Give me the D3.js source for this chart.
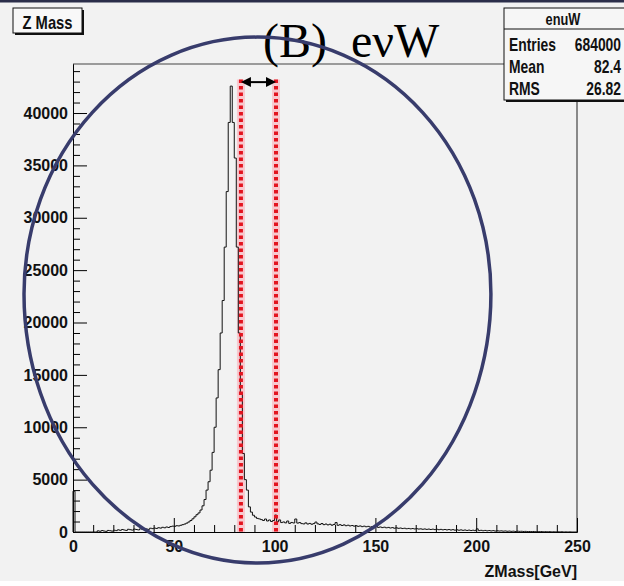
<!DOCTYPE html>
<html>
<head>
<meta charset="utf-8">
<script src="https://cdn.jsdelivr.net/npm/d3@7"></script>
<style>
  body { margin: 0; background: #f2f2f2; }
  svg { display: block; }
</style>
</head>
<body>
<svg id="chart"></svg>
<script>

// histogram contents, 1 GeV bins from 0 to 250 GeV
var binWidth = 1
var histValues = [
    3900, 0, 0, 0, 0, 0, 0, 0, 0, 0,
    0, 0, 110, 70, 140, 90, 60, 150, 120, 80,
    170, 130, 210, 160, 240, 190, 150, 260, 220, 180,
    280, 240, 200, 300, 260, 330, 290, 250, 360, 320,
    380, 340, 410, 370, 450, 400, 480, 430, 520, 560,
    540, 600, 580, 640, 700, 760, 850, 960, 1100, 1260,
    1450, 1650, 1820, 2100, 2500, 3100, 4000, 4800, 5900, 7600,
    10000, 12800, 15500, 19000, 22100, 27200, 32500, 39100, 42570, 39100,
    35700, 27200, 19000, 13300, 7500, 5000, 4000, 2400, 1900, 1600,
    1430, 1300, 1250, 1180, 1100, 1240, 1050, 1150, 1000, 1100,
    1620, 980, 1150, 900, 960, 870, 1050, 820, 910, 860,
    1240, 850, 900, 800, 770, 870, 760, 820, 740, 800,
    950, 780, 720, 810, 700, 760, 680, 740, 650, 720,
    900, 640, 700, 620, 680, 600, 650, 580, 620, 560,
    600, 540, 580, 510, 560, 500, 540, 470, 520, 460,
    560, 440, 480, 420, 460, 400, 440, 380, 420, 360,
    400, 350, 380, 330, 360, 310, 340, 300, 330, 290,
    320, 280, 300, 260, 290, 250, 280, 240, 270, 230,
    260, 220, 250, 210, 240, 200, 230, 190, 220, 180,
    210, 170, 200, 160, 190, 150, 180, 140, 170, 130,
    300, 130, 160, 120, 150, 110, 140, 100, 130, 90,
    120, 90, 110, 80, 100, 70, 90, 60, 80, 50,
    80, 60, 70, 50, 60, 40, 50, 40, 50, 30,
    40, 30, 40, 20, 30, 20, 30, 10, 20, 10,
    20, 10, 20, 0, 10, 0, 10, 0, 0, 0
]
var xTickValues = [0, 50, 100, 150, 200, 250]
var yTickValues = [0, 5000, 10000, 15000, 20000, 25000, 30000, 35000, 40000]
var histTitle = 'Z Mass'
var xAxisTitle = 'ZMass[GeV]'
var panelLabel = '(B)  e\u03bdW'
var statsName = 'enuW'
var statsLabels = ['Entries', 'Mean', 'RMS']
var statsValues = ['684000', '82.4', '26.82']
// mass window marked with red dotted lines (GeV)
var massWindow = [83.3, 100.7]
var windowTop = 43200
var arrowLevel = 42950
// hand drawn loop: centre, half width (GeV), upper and lower half heights (counts)
var loopCentre = [91.5, 22720]
var loopHalfWidth = 115.8
var loopHalfHeights = [24535, 25680]

//sizing for the chart
var width = 624
var height = 586
var frame = {left: 73, right: 577, top: 64, bottom: 532}
var labelFont = '"Liberation Sans", Arial, sans-serif'

var svg = d3.select('#chart')
            .attr('width', width)
            .attr('height', height)

svg.append('rect').attr('width', width).attr('height', height).attr('fill', '#f2f2f2')
svg.append('rect').attr('width', width).attr('height', 2.5).attr('fill', '#2b2e4a')
svg.append('rect').attr('y', 581).attr('width', width).attr('height', 5).attr('fill', '#ffffff')

var xScale = d3.scaleLinear()
            .domain([0, histValues.length * binWidth])
            .range([frame.left, frame.right])
var yScale = d3.scaleLinear()
            .domain([0, 44680])
            .range([frame.bottom, frame.top])

// ROOT style squeezed bold text
function squeezed(parent, x, y, str, size, sx, anchor) {
    return parent.append('text')
        .attr('transform', `translate(${x},${y}) scale(${sx},1)`)
        .attr('text-anchor', anchor || 'start')
        .style('font-family', labelFont)
        .style('font-weight', 'bold')
        .style('font-size', size + 'px')
        .attr('fill', '#111')
        .text(str)
}

// frame lines (top and right)
svg.append('path')
    .attr('d', `M${frame.left},${frame.top}H${frame.right}V${frame.bottom}`)
    .attr('fill', 'none')
    .attr('stroke', '#444')
    .attr('stroke-width', 1.2)

// minor ticks first, then the labelled axes
var xMinor = d3.range(0, 251, 10).filter(d => d % 50 != 0)
var yMinor = d3.range(0, 44001, 1000).filter(d => d % 5000 != 0)

svg.append('g')
    .attr('transform', `translate(0,${frame.bottom})`)
    .call(d3.axisBottom(xScale).tickValues(xMinor).tickSize(-7).tickSizeOuter(0).tickFormat(''))
svg.append('g')
    .attr('transform', `translate(${frame.left},0)`)
    .call(d3.axisLeft(yScale).tickValues(yMinor).tickSize(-7).tickSizeOuter(0).tickFormat(''))

var xGuide = svg.append('g')
    .attr('transform', `translate(0,${frame.bottom})`)
    .call(d3.axisBottom(xScale).tickValues(xTickValues).tickSize(-14).tickSizeOuter(0).tickPadding(9).tickFormat(d3.format('d')))
var yGuide = svg.append('g')
    .attr('transform', `translate(${frame.left},0)`)
    .call(d3.axisLeft(yScale).tickValues(yTickValues).tickSize(-14).tickSizeOuter(0).tickPadding(5).tickFormat(d3.format('d')))

svg.selectAll('.domain, .tick line').attr('stroke', '#000').attr('stroke-width', 1)
svg.selectAll('.tick text')
    .attr('fill', '#111')
    .style('font-family', labelFont)
    .style('font-weight', 'bold')
    .style('font-size', '16px')

squeezed(svg, frame.right, 577, xAxisTitle, 16, 1, 'end')

// red dotted mass window halo
var win = svg.append('g')
win.selectAll('.halo').data(massWindow).enter().append('line')
    .attr('x1', d => xScale(d)).attr('x2', d => xScale(d))
    .attr('y1', yScale(windowTop)).attr('y2', frame.bottom)
    .attr('stroke', '#f8c9cf')
    .attr('stroke-width', 8)

// the histogram itself as a step line
var points = [[0, 0]].concat(histValues.map((v, i) => [i * binWidth, v]))
points.push([histValues.length * binWidth, 0])
var line = d3.line()
            .x(d => xScale(d[0]))
            .y(d => yScale(d[1]))
            .curve(d3.curveStepAfter)
svg.append('path')
    .attr('d', line(points))
    .attr('fill', 'none')
    .attr('stroke', '#111')
    .attr('stroke-width', 1)

var dots = svg.append('g')
dots.selectAll('line').data(massWindow).enter().append('line')
    .attr('x1', d => xScale(d)).attr('x2', d => xScale(d))
    .attr('y1', yScale(windowTop)).attr('y2', frame.bottom)
    .attr('stroke', '#e3141f')
    .attr('stroke-width', 4)
    .attr('stroke-dasharray', '3.5,3')

// double arrow between the two lines
var ax1 = xScale(massWindow[0]), ax2 = xScale(massWindow[1]), ay = yScale(arrowLevel)
svg.append('line')
    .attr('x1', ax1 + 6).attr('x2', ax2 - 6)
    .attr('y1', ay).attr('y2', ay)
    .attr('stroke', '#000').attr('stroke-width', 2)
svg.append('path')
    .attr('d', `M${ax1},${ay}l10,-5v10z M${ax2},${ay}l-10,-5v10z`)
    .attr('fill', '#000')

// title box
svg.append('rect').attr('x', 15).attr('y', 10).attr('width', 69).attr('height', 25).attr('fill', '#111')
svg.append('rect').attr('x', 13).attr('y', 8).attr('width', 69).attr('height', 25)
    .attr('fill', '#f8f8f8').attr('stroke', '#111').attr('stroke-width', 1)
squeezed(svg, 47.5, 28.5, histTitle, 18, 0.82, 'middle')

// stats box
var stats = svg.append('g')
stats.append('rect').attr('x', 506).attr('y', 10).attr('width', 120).attr('height', 92).attr('fill', '#111')
stats.append('rect').attr('x', 504).attr('y', 8).attr('width', 122).attr('height', 92)
    .attr('fill', '#f6f6f6').attr('stroke', '#111').attr('stroke-width', 1)
stats.append('line').attr('x1', 504).attr('x2', 624).attr('y1', 29).attr('y2', 29)
    .attr('stroke', '#111').attr('stroke-width', 1)
squeezed(stats, 563, 25, statsName, 16, 0.8, 'middle')
statsLabels.forEach((d, i) => squeezed(stats, 509, 51 + i * 22, d, 18, 0.77, 'start'))
statsValues.forEach((d, i) => squeezed(stats, 621, 51 + i * 22, d, 18, 0.77, 'end'))

// panel label
svg.append('text')
    .attr('x', 263).attr('y', 57)
    .style('font-family', '"Liberation Serif", "DejaVu Serif", serif')
    .style('font-size', '48px')
    .style('white-space', 'pre')
    .attr('fill', '#000')
    .text(panelLabel)

// loop drawn around the peak: upper and lower half ellipses
var lcx = xScale(loopCentre[0]), lcy = yScale(loopCentre[1])
var lrx = xScale(loopCentre[0] + loopHalfWidth) - lcx
var ryTop = yScale(0) - yScale(loopHalfHeights[0])
var ryBot = yScale(0) - yScale(loopHalfHeights[1])
svg.append('path')
    .attr('d', `M${lcx - lrx},${lcy} A${lrx},${ryTop} 0 0 1 ${lcx + lrx},${lcy} A${lrx},${ryBot} 0 0 1 ${lcx - lrx},${lcy}Z`)
    .attr('fill', 'none')
    .attr('stroke', '#383c6c')
    .attr('stroke-width', 3.5)

</script>
</body>
</html>
